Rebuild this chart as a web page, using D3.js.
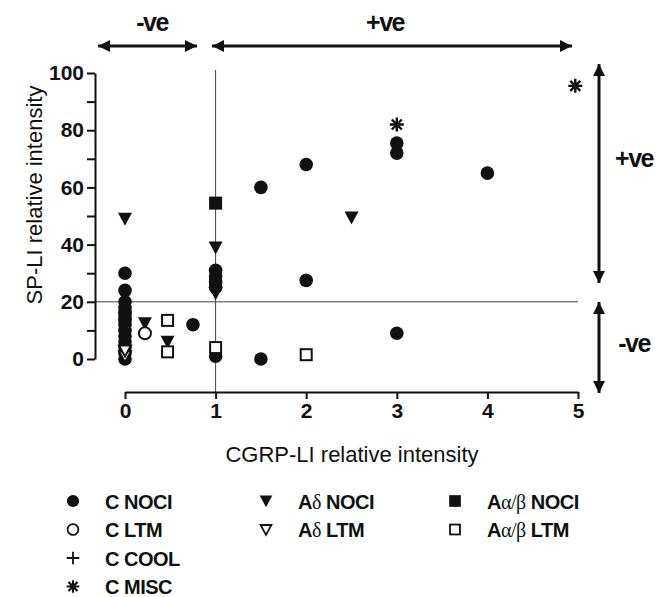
<!DOCTYPE html>
<html><head><meta charset="utf-8">
<script src="https://cdn.jsdelivr.net/npm/d3@7"></script>
<style>
body{margin:0;background:#fff;}
text{font-family:"Liberation Sans",Arial,sans-serif;fill:#111;}
</style></head>
<body><svg id="c" width="666" height="597"></svg>
<script>
// ---- data ----
const cNociX = [0,0,0,0,0,0,0,0,0,0,0,0,0, 0.75, 1,1,1,1,1, 1.5,1.5, 2,2, 3,3,3, 4];
const cNociY = [30,24,20,18,16,14,12,10,8,6,4,2,0, 12, 31,29,27,25,1, 60,0, 68,27.5, 75.5,72,9, 65];
const cLtmX = [0.22];
const cLtmY = [9];
const cCoolX = [];
const cCoolY = [];
const cMiscX = [3,4.97];
const cMiscY = [82,95.5];
const adNociX = [0,1,1,2.5,0.22,0.47];
const adNociY = [49,39,23,49.5,12.5,6];
const adLtmX = [0,0];
const adLtmY = [1,3];
const aabNociX = [1,1];
const aabNociY = [54.5,27];
const aabLtmX = [0.47,0.47,1,2,0];
const aabLtmY = [13.5,2.5,4,1.5,15];
const xTicks = [0,1,2,3,4,5];
const yTicks = [0,10,20,30,40,50,60,70,80,90,100];
const yLabels = [0,20,40,60,80,100];
const legendNames = ["C NOCI","C LTM","C COOL","C MISC","Aδ NOCI","Aδ LTM","Aα/β NOCI","Aα/β LTM"];

const svg = d3.select("#c");
const x = d3.scaleLinear().domain([0,5]).range([125,578]);
const y = d3.scaleLinear().domain([0,100]).range([359,73]);

// reference lines
svg.append("line").attr("x1",x(1)).attr("x2",x(1)).attr("y1",y(100)-3).attr("y2",392)
  .attr("stroke","#444").attr("stroke-width",1);
svg.append("line").attr("x1",95).attr("x2",x(5)).attr("y1",y(20)).attr("y2",y(20))
  .attr("stroke","#444").attr("stroke-width",1);

// axes
const ya = svg.append("g").attr("transform","translate(95,0)")
  .call(d3.axisLeft(y).tickValues(yTicks).tickSize(8).tickSizeOuter(0)
    .tickFormat(d=>yLabels.includes(d)?d:""));
const xa = svg.append("g").attr("transform","translate(0,392)")
  .call(d3.axisBottom(x).tickValues(xTicks).tickSize(7).tickSizeOuter(0).tickFormat(d3.format("d")));
[ya,xa].forEach(g=>{
  g.select(".domain").attr("stroke","#111").attr("stroke-width",2);
  g.selectAll(".tick line").attr("stroke","#111").attr("stroke-width",2);
  g.selectAll(".tick text").attr("font-size",21).attr("font-weight","bold")
   .attr("font-family","Liberation Sans, Arial, sans-serif").attr("fill","#111");
});
ya.selectAll(".tick text").attr("x",-11);
xa.selectAll(".tick text").attr("y",11);

// titles
svg.append("text").attr("x",352).attr("y",462).attr("text-anchor","middle")
  .attr("font-size",22).text("CGRP-LI relative intensity");
svg.append("text").attr("transform","translate(42,195) rotate(-90)").attr("text-anchor","middle")
  .attr("font-size",22).text("SP-LI relative intensity");

// arrows
function dArrow(x1,y1,x2,y2){
  const ang = Math.atan2(y2-y1,x2-x1);
  const L=12,W=6;
  svg.append("line").attr("x1",x1).attr("y1",y1).attr("x2",x2).attr("y2",y2)
    .attr("stroke","#111").attr("stroke-width",3);
  [[x1,y1,ang+Math.PI],[x2,y2,ang]].forEach(([px,py,a])=>{
    const bx=px-L*Math.cos(a), by=py-L*Math.sin(a);
    const nx=-Math.sin(a)*W, ny=Math.cos(a)*W;
    svg.append("path").attr("d",`M${px},${py}L${bx+nx},${by+ny}L${bx-nx},${by-ny}Z`).attr("fill","#111");
  });
}
dArrow(98,46,197,46);
dArrow(212,46,572,46);
dArrow(599,64,599,283);
dArrow(599,302,599,393);
const ve=[["-ve",152,31],["+ve",385,31],["+ve",634,167],["-ve",634,352]];
ve.forEach(([t,tx,ty])=>svg.append("text").attr("x",tx).attr("y",ty).attr("text-anchor","middle")
  .attr("font-size",25).attr("font-weight","bold").attr("letter-spacing",-1.5).text(t));

// symbols
const sym = {
  circle: (g,f)=>g.append("circle").attr("r",f?6.8:6).attr("fill",f?"#111":"#fff").attr("stroke","#111").attr("stroke-width",f?0:2),
  square: (g,f)=>g.append("rect").attr("x",f?-6.5:-5.5).attr("y",f?-6.5:-5.5).attr("width",f?13:11).attr("height",f?13:11)
    .attr("fill",f?"#111":"#fff").attr("stroke","#111").attr("stroke-width",f?0:2),
  tri: (g,f)=>g.append("path").attr("d",f?"M-7,-6L7,-6L0,7Z":"M-6,-5L6,-5L0,6Z")
    .attr("fill",f?"#111":"#fff").attr("stroke","#111").attr("stroke-width",f?0:2).attr("stroke-linejoin","miter"),
  plus: (g)=>g.append("path").attr("d","M-7,0H7M0,-7V7").attr("stroke","#111").attr("stroke-width",2),
  star: (g)=>g.append("path").attr("d","M0,-7V7M-7,0H7M-5,-5L5,5M-5,5L5,-5").attr("stroke","#111").attr("stroke-width",2.4)
};
function plot(xs,ys,type,filled){
  xs.forEach((v,i)=>{
    const g=svg.append("g").attr("transform",`translate(${x(v)},${y(ys[i])})`);
    sym[type](g,filled);
  });
}
plot(aabLtmX.slice(4),aabLtmY.slice(4),"square",false);
plot(cNociX,cNociY,"circle",true);
plot(aabNociX,aabNociY,"square",true);
plot(adNociX,adNociY,"tri",true);
plot(cLtmX,cLtmY,"circle",false);
plot(cCoolX,cCoolY,"plus",false);
plot(cMiscX,cMiscY,"star",false);
plot(adLtmX,adLtmY,"tri",false);
plot(aabLtmX.slice(0,4),aabLtmY.slice(0,4),"square",false);

// legend
const legTypes=[["circle",true],["circle",false],["plus",false],["star",false],["tri",true],["tri",false],["square",true],["square",false]];
const legPos=[[73,0],[73,1],[73,2],[73,3],[266,0],[266,1],[455,0],[455,1]];
legendNames.forEach((n,i)=>{
  const [lx,row]=legPos[i];
  const ly=501+row*28.5;
  const g=svg.append("g").attr("transform",`translate(${lx},${ly}) scale(0.9)`);
  sym[legTypes[i][0]](g,legTypes[i][1]);
  const t=svg.append("text").attr("x",lx+32).attr("y",ly+7.5).attr("font-size",20).attr("font-weight","bold")
    .attr("letter-spacing",-0.5);
  const m=n.match(/^A([δα])(\/β)?(.*)$/);
  if(m){
    t.append("tspan").text("A");
    t.append("tspan").attr("font-family","Liberation Serif, serif").attr("font-weight","normal").text(m[1]+(m[2]||""));
    t.append("tspan").text(m[3]);
  } else t.text(n);
});
</script></body></html>
